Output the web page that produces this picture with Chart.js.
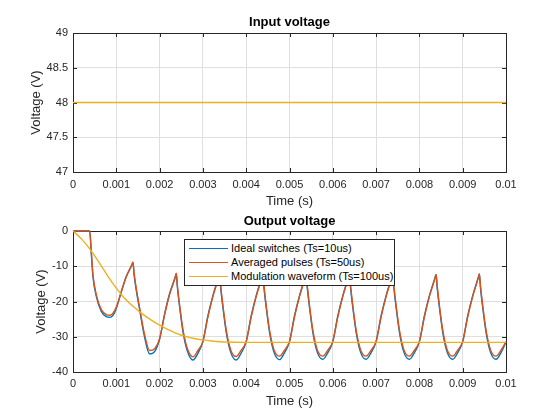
<!DOCTYPE html>
<html lang="en">
<head>
<meta charset="UTF-8">
<title>Input and output voltage</title>
<script src="https://cdn.jsdelivr.net/npm/chart.js@4"></script>
<style>
  html, body { margin: 0; padding: 0; background: #fff; }
  body { width: 560px; height: 420px; position: relative; overflow: hidden;
         font-family: "Liberation Sans", Arial, sans-serif; }
  canvas { position: absolute; left: 0; }
  #input-chart { top: 0; }
  #output-chart { top: 210px; }
  #legend { position: absolute; left: 184px; top: 239px; width: 209px; height: 45px;
            border: 1px solid #262626; background: #fff; font-size: 11px; color: #000; }
  .legend-row { position: absolute; left: 0; height: 14px; line-height: 14px; white-space: nowrap; }
  .legend-line { position: absolute; left: 4px; top: 7px; width: 39px; height: 0; border-top: 1.4px solid; }
  .legend-text { position: absolute; left: 46px; top: 0; }
</style>
</head>
<body>
<canvas id="input-chart" width="560" height="210"></canvas>
<canvas id="output-chart" width="560" height="210"></canvas>
<div id="legend"></div>

<script>
// ---- data (time in ms, voltage in V) ----
const timeTicks = [0, 0.001, 0.002, 0.003, 0.004, 0.005, 0.006, 0.007, 0.008, 0.009, 0.01];
const timeTickLabels = ['0', '0.001', '0.002', '0.003', '0.004', '0.005', '0.006', '0.007', '0.008', '0.009', '0.01'];
const inputTicks = [47, 47.5, 48, 48.5, 49];
const inputTickLabels = ['47', '47.5', '48', '48.5', '49'];
const outputTicks = [-40, -30, -20, -10, 0];
const outputTickLabels = ['-40', '-30', '-20', '-10', '0'];

const inputTimeMs = [0, 10];
const inputVoltage = [48, 48];

const switchTimeMs = [
  0, 0.385, 0.423, 0.46, 0.54, 0.654, 0.77, 0.846, 0.92,
  1, 1.115, 1.23, 1.36, 1.385, 1.41, 1.46, 1.54, 1.645, 1.77, 1.885,
  2, 2.115, 2.23, 2.36, 2.385, 2.41, 2.46, 2.54, 2.645, 2.77, 2.885,
  3, 3.115, 3.23, 3.36, 3.385, 3.41, 3.46, 3.54, 3.645, 3.77, 3.885,
  4, 4.115, 4.23, 4.36, 4.385, 4.41, 4.46, 4.54, 4.645, 4.77, 4.885,
  5, 5.115, 5.23, 5.36, 5.385, 5.41, 5.46, 5.54, 5.645, 5.77, 5.885,
  6, 6.115, 6.23, 6.36, 6.385, 6.41, 6.46, 6.54, 6.645, 6.77, 6.885,
  7, 7.115, 7.23, 7.36, 7.385, 7.41, 7.46, 7.54, 7.645, 7.77, 7.885,
  8, 8.115, 8.23, 8.36, 8.385, 8.41, 8.46, 8.54, 8.645, 8.77, 8.885,
  9, 9.115, 9.23, 9.36, 9.385, 9.41, 9.46, 9.54, 9.645, 9.77, 9.885,
  10
];
const idealSwitches = [
  0, 0, -6.2, -12.8, -18.6, -22.8, -24.3, -24.5, -24.0,
  -22.0, -17.2, -12.9, -9.6, -8.9, -12.3, -16.7, -22.4, -29.6, -34.9, -34.2,
  -30.7, -23.6, -17.8, -13.1, -12.1, -15.8, -21.3, -28.6, -34.2, -36.6, -34.7,
  -31.4, -24.1, -18.4, -13.2, -12.2, -16.0, -21.5, -28.8, -34.5, -36.6, -34.6,
  -31.4, -24.1, -18.4, -13.2, -12.2, -16.0, -21.5, -28.8, -34.5, -36.5, -34.5,
  -31.4, -24.1, -18.4, -13.2, -12.2, -16.0, -21.5, -28.8, -34.5, -36.4, -34.5,
  -31.4, -24.1, -18.4, -13.2, -12.2, -16.0, -21.5, -28.8, -34.5, -36.4, -34.5,
  -31.4, -24.1, -18.4, -13.2, -12.2, -16.0, -21.5, -28.8, -34.5, -36.4, -34.5,
  -31.4, -24.1, -18.4, -13.3, -12.3, -16.0, -21.5, -28.8, -34.5, -36.4, -34.5,
  -31.4, -24.1, -18.4, -13.2, -12.2, -16.0, -21.5, -28.8, -34.5, -36.4, -34.5,
  -31.5
];
const averagedPulses = [
  0, 0, -6.0, -12.4, -18.2, -22.3, -23.7, -23.9, -23.4,
  -21.6, -17.3, -13.0, -9.6, -8.8, -11.9, -16.2, -21.9, -28.9, -33.9, -33.4,
  -30.5, -23.8, -18.0, -13.2, -12.0, -15.4, -20.8, -28.0, -33.5, -35.7, -33.9,
  -31.3, -24.4, -18.6, -13.3, -12.2, -15.5, -20.9, -28.2, -33.8, -35.6, -33.8,
  -31.3, -24.4, -18.6, -13.3, -12.2, -15.5, -20.9, -28.2, -33.8, -35.5, -33.8,
  -31.3, -24.4, -18.6, -13.3, -12.2, -15.5, -20.9, -28.2, -33.8, -35.5, -33.8,
  -31.3, -24.4, -18.6, -13.3, -12.2, -15.5, -20.9, -28.2, -33.8, -35.5, -33.8,
  -31.3, -24.4, -18.6, -13.3, -12.2, -15.5, -20.9, -28.2, -33.8, -35.5, -33.8,
  -31.3, -24.4, -18.6, -13.4, -12.3, -15.5, -20.9, -28.2, -33.8, -35.5, -33.8,
  -31.3, -24.4, -18.6, -13.3, -12.2, -15.5, -20.9, -28.2, -33.8, -35.5, -33.8,
  -31.4
];

const modTimeMs = [0, 0.2, 0.4, 0.6, 0.8, 1.0, 1.2, 1.4, 1.6, 1.8, 2.0, 2.2, 2.4, 2.6, 2.8, 3.0, 3.2, 3.4, 3.6, 4, 5, 6, 7, 8, 9, 10];
const modulationWave = [0, -2.3, -5.3, -8.9, -12.7, -16.2, -19.2, -21.5, -23.5, -25.2, -26.7, -28.0, -29.1, -29.9, -30.5, -30.9, -31.2, -31.4, -31.5, -31.6, -31.6, -31.6, -31.6, -31.6, -31.6, -31.6];

const BLUE = '#0072BD';
const RED = '#D95319';
const YELLOW = '#EDB120';
const FONT = '"Liberation Sans", Arial, sans-serif';

const toPoints = (timesMs, values) => timesMs.map((t, i) => ({ x: t / 1000, y: values[i] }));

// MATLAB style box with inward tick marks, and a title centred over the axes
const axesBox = {
  id: 'axesBox',
  beforeDatasetsDraw(chart, args, opts) {
    const { ctx, chartArea: a, scales: { x, y } } = chart;
    const len = 4;
    ctx.save();
    ctx.strokeStyle = '#262626';
    ctx.lineWidth = 1;
    ctx.beginPath();
    x.ticks.forEach(t => {
      const px = Math.round(x.getPixelForValue(t.value)) + 0.5;
      ctx.moveTo(px, a.bottom); ctx.lineTo(px, a.bottom - len);
      ctx.moveTo(px, a.top); ctx.lineTo(px, a.top + len);
    });
    y.ticks.forEach(t => {
      const py = Math.round(y.getPixelForValue(t.value)) + 0.5;
      ctx.moveTo(a.left, py); ctx.lineTo(a.left + len, py);
      ctx.moveTo(a.right, py); ctx.lineTo(a.right - len, py);
    });
    ctx.stroke();
    ctx.strokeRect(Math.round(a.left) + 0.5, Math.round(a.top) + 0.5,
                   Math.round(a.right - a.left), Math.round(a.bottom - a.top));

    ctx.fillStyle = '#000';
    ctx.font = 'bold 13px ' + FONT;
    ctx.textAlign = 'center';
    ctx.textBaseline = 'middle';
    ctx.fillText(opts.text, (a.left + a.right) / 2, opts.y);
    ctx.restore();
  }
};

function makeOptions(cfg) {
  return {
    responsive: false,
    animation: false,
    events: [],
    layout: { padding: { left: 0, right: 54, top: cfg.top, bottom: 0 } },
    plugins: {
      legend: { display: false },
      tooltip: { enabled: false },
      axesBox: { text: cfg.title, y: cfg.titleY }
    },
    scales: {
      x: {
        type: 'linear', min: 0, max: 0.01,
        afterBuildTicks: s => { s.ticks = timeTicks.map(v => ({ value: v })); },
        afterFit: s => { s.height = cfg.xHeight; },
        ticks: {
          padding: cfg.xTickPad, color: '#262626', font: { family: FONT, size: 11 },
          maxRotation: 0, autoSkip: false,
          callback: (v, i) => timeTickLabels[i]
        },
        grid: { color: '#dfdfdf', drawTicks: false },
        border: { display: false },
        title: {
          display: true, text: 'Time (s)', color: '#262626',
          font: { family: FONT, size: 13 }, padding: { top: 0, bottom: cfg.xTitlePad }
        }
      },
      y: {
        type: 'linear', min: cfg.yTicks[0], max: cfg.yTicks[cfg.yTicks.length - 1],
        afterBuildTicks: s => { s.ticks = cfg.yTicks.map(v => ({ value: v })); },
        afterFit: s => { s.width = 73; },
        ticks: {
          padding: 5, color: '#262626', font: { family: FONT, size: 11 },
          autoSkip: false,
          callback: (v, i) => cfg.yLabels[i]
        },
        grid: { color: '#dfdfdf', drawTicks: false },
        border: { display: false },
        title: {
          display: true, text: 'Voltage (V)', color: '#262626',
          font: { family: FONT, size: 13 }, padding: { top: cfg.yTitlePad, bottom: 0 }
        }
      }
    }
  };
}

const line = (label, color, data, order) => ({
  label, data, order,
  borderColor: color, backgroundColor: color,
  borderWidth: 1.4, pointRadius: 0, fill: false, clip: 4,
  cubicInterpolationMode: 'monotone'
});

new Chart(document.getElementById('input-chart'), {
  type: 'line',
  data: { datasets: [line('Input voltage', YELLOW, toPoints(inputTimeMs, inputVoltage), 1)] },
  options: makeOptions({
    title: 'Input voltage', titleY: 22.3, top: 33,
    xHeight: 38, xTickPad: 6.4, xTitlePad: 0.5, yTitlePad: 28.2,
    yTicks: inputTicks, yLabels: inputTickLabels
  }),
  plugins: [axesBox]
});

const outputChart = new Chart(document.getElementById('output-chart'), {
  type: 'line',
  data: {
    datasets: [
      line('Ideal switches (Ts=10us)', BLUE, toPoints(switchTimeMs, idealSwitches), 3),
      line('Averaged pulses (Ts=50us)', RED, toPoints(switchTimeMs, averagedPulses), 2),
      line('Modulation waveform (Ts=100us)', YELLOW, toPoints(modTimeMs, modulationWave), 1)
    ]
  },
  options: makeOptions({
    title: 'Output voltage', titleY: 11.7, top: 21,
    xHeight: 48, xTickPad: 5.4, xTitlePad: 11.2, yTitlePad: 33.9,
    yTicks: outputTicks, yLabels: outputTickLabels
  }),
  plugins: [axesBox]
});

// legend box drawn inside the output axes, built from the datasets
const legendEl = document.getElementById('legend');
outputChart.data.datasets.forEach((ds, i) => {
  const row = document.createElement('div');
  row.className = 'legend-row';
  row.style.top = (0.5 + i * 14.2) + 'px';
  row.innerHTML = '<span class="legend-line" style="border-color:' + ds.borderColor + '"></span>' +
                  '<span class="legend-text"></span>';
  row.querySelector('.legend-text').textContent = ds.label;
  legendEl.appendChild(row);
});
</script>
</body>
</html>
